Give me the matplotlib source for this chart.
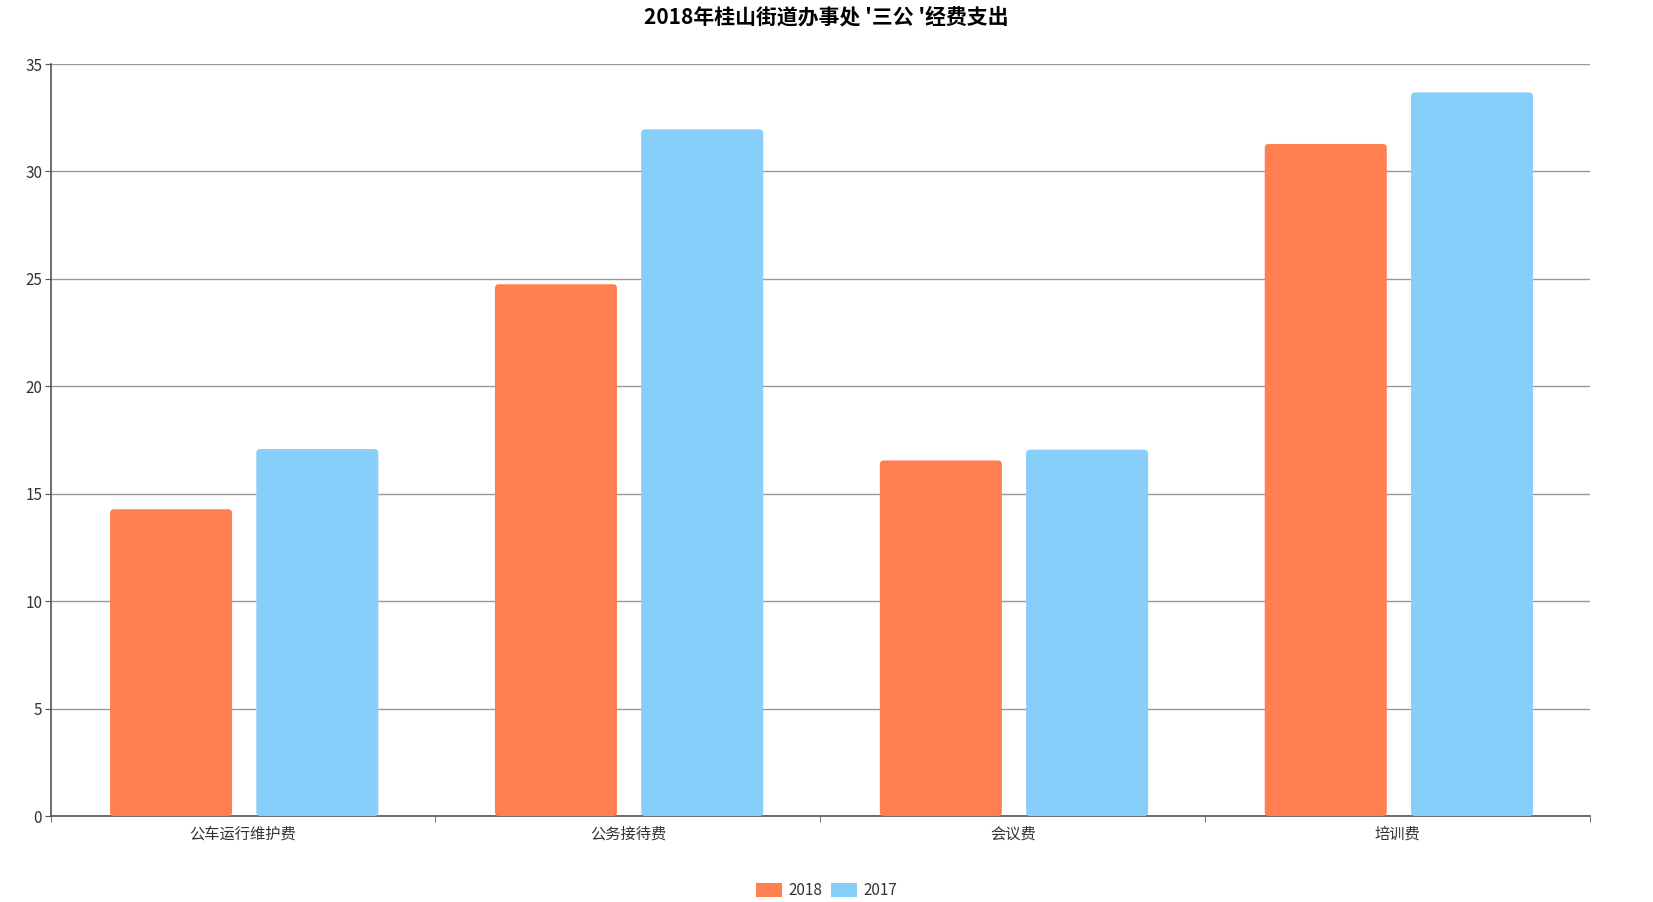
import numpy as np
import matplotlib
matplotlib.use('Agg')
import matplotlib.pyplot as plt
from matplotlib.patches import FancyBboxPatch, Patch

plt.rcParams['font.family'] = ['Noto Sans CJK SC', 'DejaVu Sans']

categories = ['公车运行维护费', '公务接待费', '会议费', '培训费']
series_names = ['2018', '2017']
values_2018 = [14.28, 24.75, 16.55, 31.28]
values_2017 = [17.08, 31.96, 17.05, 33.68]
colors = ['#FF7F50', '#87CEFA']

fig = plt.figure(figsize=(16.53, 9.02), dpi=100)
ax = fig.add_axes([0.0306, 0.0953, 0.9314, 0.8337])

x = np.arange(len(categories))
width = 0.317
offset = 0.19
ax.set_xlim(-0.5, len(categories) - 0.5)
ax.set_ylim(0, 35)

# rounding corners: figure out data units per pixel
px_x = (len(categories)) / (ax.get_position().width * fig.get_figwidth() * fig.dpi)
px_y = 35 / (ax.get_position().height * fig.get_figheight() * fig.dpi)
r = 4 * px_x
aspect = px_y / px_x

for vals, col, sign in [(values_2018, colors[0], -1), (values_2017, colors[1], 1)]:
    for xi, v in zip(x, vals):
        p = FancyBboxPatch((xi + sign * offset - width / 2 + 0.003, 0), width, v,
                           boxstyle='round,pad=0,rounding_size=%f' % r,
                           mutation_aspect=aspect, fc=col, ec='none', zorder=3)
        ax.add_patch(p)

ax.set_yticks(np.arange(0, 36, 5))
ax.yaxis.grid(True, color='#999999', lw=1)
ax.set_axisbelow(True)
ax.set_xticks(x)
ax.set_xticklabels(categories, fontsize=11, color='#333333')
ax.set_xticks(np.arange(-0.5, len(categories), 1), minor=True)
ax.tick_params(axis='x', which='major', length=0, pad=7)
ax.tick_params(axis='x', which='minor', length=4, color='#555555')
ax.tick_params(axis='y', length=4, color='#555555', labelsize=11, labelcolor='#333333', pad=2)
for s in ['top', 'right']:
    ax.spines[s].set_visible(False)
for s in ['left', 'bottom']:
    ax.spines[s].set_color('#555555')
    ax.spines[s].set_linewidth(1.2)

fig.text(0.5, 0.981, "2018年桂山街道办事处 '三公 '经费支出", ha='center', va='center',
         fontsize=15, fontweight='bold', color='#000000')

handles = [Patch(fc=c, ec='none') for c in colors]
fig.legend(handles, series_names, loc='lower center', bbox_to_anchor=(0.5, -0.012), ncol=2,
           frameon=False, fontsize=11, handlelength=1.7, handleheight=1.0,
           columnspacing=0.6, handletextpad=0.4, labelcolor='#333333')

fig.savefig('out.png', dpi=100)
